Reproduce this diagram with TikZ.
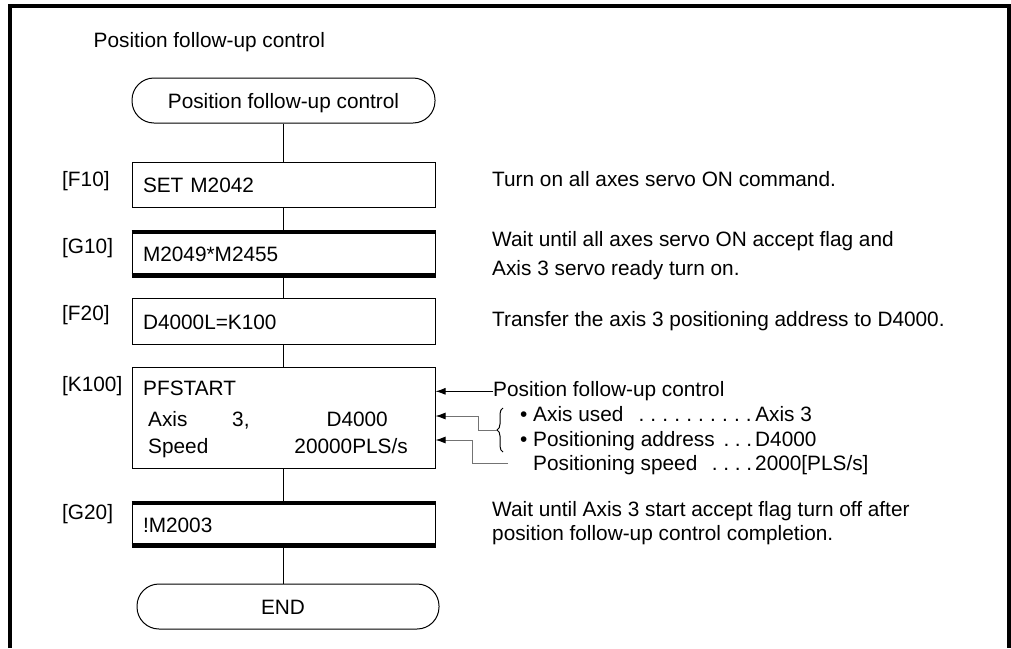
\documentclass[tikz,border=0pt]{standalone}
\usepackage{fontspec}
\setmainfont{Liberation Sans}
\usetikzlibrary{arrows.meta,decorations.pathreplacing}
\definecolor{ln}{gray}{0.45}
\newcommand{\dotlead}{\xleaders\hbox to 11pt{\hss.\hss}\hfill}
\begin{document}
\begin{tikzpicture}[x=1pt,y=-1pt,
  every node/.style={inner sep=0pt, font=\fontsize{20.8}{25}\selectfont},
  txt/.style={anchor=base west},
  stepbox/.style={draw, line width=1pt, minimum width=303pt, inner xsep=11pt,
    text width=281pt, align=left, text height=16pt, text depth=0pt},
  term/.style={draw, line width=1pt, rounded corners=22pt, minimum width=303pt,
    minimum height=45pt, text height=16pt, text depth=0pt, align=center},
  conn/.style={line width=1pt},
  bar/.style={line width=4.3pt},
  ptr/.style={line width=1pt, -{Latex[length=10pt,width=7pt,color=black]}},
]
\useasboundingbox (0,0) rectangle (1011,648);
% outer frame (open at the bottom)
\draw[line width=4pt] (10.3,648) -- (10.3,5.7) -- (1008.5,5.7) -- (1008.5,648);

\node[txt] (title) at (93.5,47) {Position follow-up control};

% flow boxes
\node[term] (start) at (283.5,100.5) {Position follow-up control};
\node[stepbox, minimum height=45pt] (f10) at (283.5,184.5) {SET M2042};
\node[stepbox, minimum height=47pt] (g10) at (283.5,253.5) {M2049*M2455};
\node[stepbox, minimum height=46pt] (f20) at (283.5,321) {D4000L=K100};
\node[draw, line width=1pt, minimum width=303pt, minimum height=101pt] (k100) at (283.5,417.5) {};
\node[stepbox, minimum height=46pt] (g20) at (283.5,524) {!M2003};
\node[term, minimum width=302pt] (end) at (288,606.5) {\hspace*{-10pt}END};

% thick bars of the wait steps
\draw[bar] ([yshift=-2.15pt]g10.north west) -- ([yshift=-2.15pt]g10.north east);
\draw[bar] ([yshift=2.15pt]g10.south west) -- ([yshift=2.15pt]g10.south east);
\draw[bar] ([yshift=-2.15pt]g20.north west) -- ([yshift=-2.15pt]g20.north east);
\draw[bar] ([yshift=2.15pt]g20.south west) -- ([yshift=2.15pt]g20.south east);

% K100 contents
\node[txt] (kpf) at (143,395.5) {PFSTART};
\node[txt] (kax) at (148,426) {Axis};
\node[txt] (kax3) at (232,426) {3,};
\node[anchor=base east] (kaxd) at (388,426) {D4000};
\node[txt] (ksp) at (148,453) {Speed};
\node[anchor=base east] (kspv) at (408,453) {20000PLS/s};

% step labels
\node[txt] (lf10) at (62,186) {[F10]};
\node[txt] (lg10) at (62,253) {[G10]};
\node[txt] (lf20) at (62,320.7) {[F20]};
\node[txt] (lk100) at (62,391) {[K100]};
\node[txt] (lg20) at (62,519) {[G20]};

% connectors
\draw[conn] (start.south) -- (f10.north);
\draw[conn] (f10.south) -- (g10.north);
\draw[conn] (g10.south) -- (f20.north);
\draw[conn] (f20.south) -- (k100.north);
\draw[conn] (k100.south) -- (g20.north);
\draw[conn] (g20.south) -- (g20.south |- end.north);

% comments
\node[txt] (cf10) at (492,186) {Turn on all axes servo ON command.};
\node[txt] (cg10a) at (492,246.7) {Wait until all axes servo ON accept flag and};
\node[txt] (cg10b) at (492,275) {Axis 3 servo ready turn on.};
\node[txt] (cf20) at (492,326.7) {Transfer the axis 3 positioning address to D4000.};
\node[txt] (cpf) at (493,396.7) {Position follow-up control};
\node[txt] (cax) at (520,421.7) {\textbullet\ \makebox[222pt][l]{Axis used\ \ \dotlead}Axis 3};
\node[txt] (cad) at (520,446.7) {\textbullet\ \makebox[222pt][l]{Positioning address\ \dotlead}D4000};
\node[txt] (csp) at (533,470.7) {\makebox[222pt][l]{Positioning speed\ \ \dotlead}2000[PLS/s]};
\node[txt] (cg20a) at (492,516.7) {Wait until Axis 3 start accept flag turn off after};
\node[txt] (cg20b) at (492,540) {position follow-up control completion.};

% brace and pointers
\draw[line width=1pt, decorate, decoration={brace, amplitude=6pt}] (503,452) -- (503,408);
\coordinate (brtip) at (497,430);
\coordinate (spend) at (508,463);
\draw[ptr] (cpf.west) -- (cpf.west -| k100.east);
\draw[ptr, draw=ln] (brtip) -- ++(-19,0) |- ([yshift=1.5pt]k100.east);
\draw[ptr, draw=ln] (spend) -- ++(-36,0) |- ([yshift=-22.5pt]k100.east);
\end{tikzpicture}
\end{document}
